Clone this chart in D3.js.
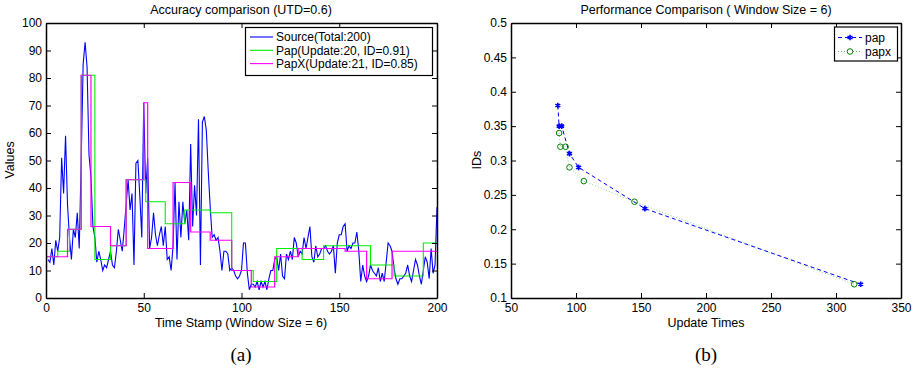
<!DOCTYPE html>
<html>
<head>
<meta charset="utf-8">
<script src="https://cdn.jsdelivr.net/npm/d3@7"></script>
<style>
  body { margin: 0; background: #fff; }
  svg text { font-family: "Liberation Sans", Arial, sans-serif; fill: #000; }
</style>
</head>
<body>
<svg id="fig" width="918" height="374"></svg>
<script>
// ---- data (a): accuracy comparison ----
const sourceValues = [
  14,13,18,12,21,17,22,51,38,59, 34,22,14,25,22,31,18,50,85,93,
  84,52,44,26,22,13,17,14,10,12, 11,14,17,12,11,17,25,21,17,25,
  34,43,32,38,12,49,50,37,22,71, 38,51,18,22,31,23,19,23,26,19,
  26,14,15,10,19,42,14,35,22,35, 27,32,21,56,26,41,30,65,12,64,
  66,61,46,33,22,23,21,22,17,10, 17,17,16,10,11,10,8,7,8,10,
  20,20,9,3,5,5,4,6,3,6, 4,6,3,7,10,10,14,15,10,16,
  8,7,16,14,17,14,22,20,15,17, 16,22,18,22,26,15,13,19,15,16,
  18,18,19,17,16,17,19,9,20,23, 23,26,27,17,19,18,20,20,24,17,
  6,12,8,6,8,12,10,9,8,11, 6,9,6,13,20,19,17,11,7,5,
  7,7,8,9,12,8,6,10,14,12, 8,5,10,15,13,7,18,9,12,33
];
const timeStamps = d3.range(1, sourceValues.length + 1);

const papStart  = [0,6,12,18,25,33,41,51,61,71,84,95,106,118,131,142,166,178,193];
const papValue  = [15,17,25,81,14,19,43,35,27,32,31,10,6,18,14,19,12,8,20];
const papxStart = [0,11,18,23,33,41,50,52,65,74,84,95,105,117,129,153,164,177];
const papxValue = [15,25,81,26,19,43,71,18,42,24,21,10,4,15,18,17,7,17];

const seriesNames = ["Source(Total:200)", "Pap(Update:20, ID=0.91)", "PapX(Update:21, ID=0.85)"];
const seriesColors = ["#0000ff", "#00ee00", "#ff00ff"];

// ---- data (b): performance comparison ----
const papUpdates  = [86, 87, 89, 95, 102, 153, 319];
const papIds      = [0.38, 0.35, 0.35, 0.31, 0.29, 0.23, 0.12];
const papxUpdates = [87, 88, 92, 95, 106, 145, 314];
const papxIds     = [0.34, 0.32, 0.32, 0.29, 0.27, 0.24, 0.12];

const svg = d3.select("#fig");

// MATLAB style box with inward ticks on all four sides
function boxAxes(g, x, y, xTicks, yTicks, yFmt) {
  const [x0, x1] = x.range(), [y0, y1] = y.range();
  g.append("g").attr("transform", `translate(0,${y0})`)
    .call(d3.axisBottom(x).tickValues(xTicks).tickSizeInner(-5).tickSizeOuter(0).tickPadding(5).tickFormat(d3.format("d")));
  g.append("g").attr("transform", `translate(0,${y1})`)
    .call(d3.axisTop(x).tickValues(xTicks).tickSizeInner(-5).tickSizeOuter(0).tickFormat(""));
  g.append("g").attr("transform", `translate(${x0},0)`)
    .call(d3.axisLeft(y).tickValues(yTicks).tickSizeInner(-5).tickSizeOuter(0).tickPadding(4).tickFormat(yFmt));
  g.append("g").attr("transform", `translate(${x1},0)`)
    .call(d3.axisRight(y).tickValues(yTicks).tickSizeInner(-5).tickSizeOuter(0).tickFormat(""));
  g.selectAll(".domain").attr("stroke", "#000").attr("stroke-width", 1.5);
  g.selectAll(".tick line").attr("stroke", "#000").attr("stroke-width", 1);
  g.selectAll(".tick text").attr("font-size", 12).attr("font-family", "Liberation Sans, Arial, sans-serif");
}

// ================= (a) =================
const xa = d3.scaleLinear().domain([0, 200]).range([46, 437]);
const ya = d3.scaleLinear().domain([0, 100]).range([298, 23]);
const ga = svg.append("g");

const stepLine = d3.line().curve(d3.curveStepAfter).x(d => xa(d[0])).y(d => ya(d[1]));
const steps = (s, v) => s.map((t, i) => [t, v[i]]).concat([[200, v[v.length - 1]]]);

ga.append("path")
  .attr("d", d3.line().x(d => xa(d[0])).y(d => ya(d[1]))(timeStamps.map((t, i) => [t, sourceValues[i]])))
  .attr("fill", "none").attr("stroke", seriesColors[0]).attr("stroke-width", 1.1);
ga.append("path").attr("d", stepLine(steps(papStart, papValue)))
  .attr("fill", "none").attr("stroke", seriesColors[1]).attr("stroke-width", 1.1);
ga.append("path").attr("d", stepLine(steps(papxStart, papxValue)))
  .attr("fill", "none").attr("stroke", seriesColors[2]).attr("stroke-width", 1.2);

boxAxes(ga, xa, ya, d3.range(0, 201, 50), d3.range(0, 101, 10), d3.format("d"));

ga.append("text").attr("x", 241).attr("y", 14).attr("text-anchor", "middle").attr("font-size", 12.5)
  .text("Accuracy comparison (UTD=0.6)");
ga.append("text").attr("x", 241).attr("y", 327).attr("text-anchor", "middle").attr("font-size", 12.5)
  .text("Time Stamp (Window Size = 6)");
ga.append("text").attr("transform", "translate(14,160) rotate(-90)").attr("text-anchor", "middle").attr("font-size", 12.5)
  .text("Values");

// legend (a)
const la = ga.append("g");
la.append("rect").attr("x", 245.5).attr("y", 27.5).attr("width", 187).attr("height", 48)
  .attr("fill", "#fff").attr("stroke", "#000").attr("stroke-width", 1.2);
seriesNames.forEach((name, i) => {
  const yy = 37 + i * 13.3;
  la.append("line").attr("x1", 250).attr("x2", 273).attr("y1", yy).attr("y2", yy)
    .attr("stroke", seriesColors[i]).attr("stroke-width", 1.1);
  la.append("text").attr("x", 276).attr("y", yy + 4.3).attr("font-size", 12).text(name);
});

// ================= (b) =================
const xb = d3.scaleLinear().domain([50, 350]).range([511, 901]);
const yb = d3.scaleLinear().domain([0.1, 0.5]).range([298, 23]);
const gb = svg.append("g");

const ptLine = d3.line().x(d => xb(d[0])).y(d => yb(d[1]));
const papPts = papUpdates.map((u, i) => [u, papIds[i]]);
const papxPts = papxUpdates.map((u, i) => [u, papxIds[i]]);

gb.append("path").attr("d", ptLine(papxPts)).attr("fill", "none")
  .attr("stroke", "#4caf50").attr("stroke-width", 0.9).attr("stroke-dasharray", "1,2").attr("opacity", 0.7);
gb.append("path").attr("d", ptLine(papPts)).attr("fill", "none")
  .attr("stroke", "#0000ff").attr("stroke-width", 1).attr("stroke-dasharray", "4,3");

const star = d3.symbol(d3.symbolAsterisk).size(22);
gb.selectAll("path.pap").data(papPts).join("path").attr("class", "pap")
  .attr("d", star).attr("transform", d => `translate(${xb(d[0])},${yb(d[1])})`)
  .attr("fill", "none").attr("stroke", "#0000ff").attr("stroke-width", 1.6);
gb.selectAll("circle.papx").data(papxPts).join("circle").attr("class", "papx")
  .attr("cx", d => xb(d[0])).attr("cy", d => yb(d[1])).attr("r", 2.8)
  .attr("fill", "none").attr("stroke", "#008000").attr("stroke-width", 1);

boxAxes(gb, xb, yb, d3.range(50, 351, 50), d3.range(0.1, 0.501, 0.05).map(v => +v.toFixed(2)), d3.format(""));

gb.append("text").attr("x", 706).attr("y", 14).attr("text-anchor", "middle").attr("font-size", 12.5)
  .text("Performance Comparison ( Window Size = 6)");
gb.append("text").attr("x", 706).attr("y", 327).attr("text-anchor", "middle").attr("font-size", 12.5)
  .text("Update Times");
gb.append("text").attr("transform", "translate(481,160) rotate(-90)").attr("text-anchor", "middle").attr("font-size", 12.5)
  .text("IDs");

// legend (b)
const lb = gb.append("g");
lb.append("rect").attr("x", 834.5).attr("y", 27).attr("width", 63).attr("height", 34)
  .attr("fill", "#fff").attr("stroke", "#000").attr("stroke-width", 1.2);
lb.append("line").attr("x1", 838).attr("x2", 862).attr("y1", 37.5).attr("y2", 37.5)
  .attr("stroke", "#0000ff").attr("stroke-dasharray", "4,3");
lb.append("path").attr("d", star).attr("transform", "translate(850,37.5)")
  .attr("fill", "none").attr("stroke", "#0000ff").attr("stroke-width", 1.6);
lb.append("text").attr("x", 865).attr("y", 41.8).attr("font-size", 12).text("pap");
lb.append("line").attr("x1", 838).attr("x2", 862).attr("y1", 51.5).attr("y2", 51.5)
  .attr("stroke", "#4caf50").attr("stroke-width", 0.9).attr("stroke-dasharray", "1,2");
lb.append("circle").attr("cx", 850).attr("cy", 51.5).attr("r", 2.8)
  .attr("fill", "#fff").attr("stroke", "#008000");
lb.append("text").attr("x", 865).attr("y", 55.8).attr("font-size", 12).text("papx");

// sub-figure captions
[["(a)", 241], ["(b)", 706]].forEach(([s, cx]) => {
  svg.append("text").attr("x", cx).attr("y", 361).attr("text-anchor", "middle")
    .attr("font-size", 19).style("font-family", "'Liberation Serif', 'DejaVu Serif', serif").text(s);
});
</script>
</body>
</html>
